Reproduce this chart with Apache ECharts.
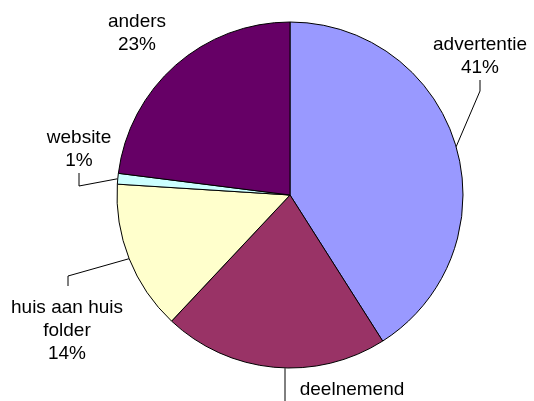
<!DOCTYPE html>
<html>
<head>
<meta charset="utf-8">
<script src="https://cdn.jsdelivr.net/npm/echarts@6/dist/echarts.min.js"></script>
<style>
  html, body { margin: 0; padding: 0; background: #fff; }
  #container { width: 534px; height: 401px; }
</style>
</head>
<body>
<div id="container"></div>
<script>
var categories = ["advertentie", "deelnemend", "huis aan huis\nfolder", "website", "anders"];
var values = [41, 21, 14, 1, 23];
var colors = ["#9999FF", "#993366", "#FFFFCC", "#CCFFFF", "#660066"];

// label centre + leader elbow/end, per slice (same order as categories)
var labelPos = [
    { x: 480, y: 56, line: [[480, 91], [480, 80]] },
    { x: 352, y: 401, line: null },
    { x: 67, y: 331, line: [[68, 276], [68, 286]] },
    { x: 79, y: 149, line: [[79, 186], [79, 173]] },
    { x: 137, y: 33, line: [] }
];

var chart = echarts.init(document.getElementById("container"), null, { renderer: "canvas" });

var data = categories.map(function (c, i) {
    var d = { name: c, value: values[i], itemStyle: { color: colors[i] } };
    if (labelPos[i].line && labelPos[i].line.length == 0) {
        d.labelLine = { show: false };
    }
    return d;
});

chart.setOption({
    animation: false,
    backgroundColor: "#fff",
    series: [{
        type: "pie",
        center: [290, 195],
        radius: 173,
        startAngle: 90,
        clockwise: true,
        data: data,
        itemStyle: { borderColor: "#000", borderWidth: 1 },
        emphasis: { disabled: true },
        label: {
            show: true,
            position: "outside",
            formatter: "{b}\n{d}%",
            fontFamily: "Liberation Sans, Arial, sans-serif",
            fontSize: 19,
            lineHeight: 23,
            color: "#000",
            align: "center",
            overflow: "none"
        },
        labelLine: {
            show: true,
            length: 10,
            length2: 10,
            lineStyle: { color: "#000", width: 1 }
        },
        labelLayout: function (params) {
            var p = labelPos[params.dataIndex];
            var p0 = params.labelLinePoints ? params.labelLinePoints[0] : null;
            var pts;
            if (p.line === null) {
                // straight drop below the slice
                pts = p0 ? [[285, p0[1] + 1], [285, 402]] : undefined;
            } else if (p.line.length && p0) {
                pts = [p0, p.line[0], p.line[1]];
            }
            var r = { x: p.x, y: p.y, align: "center", verticalAlign: "middle", width: 200 };
            if (pts) r.labelLinePoints = pts;
            return r;
        }
    }]
});
</script>
</body>
</html>
